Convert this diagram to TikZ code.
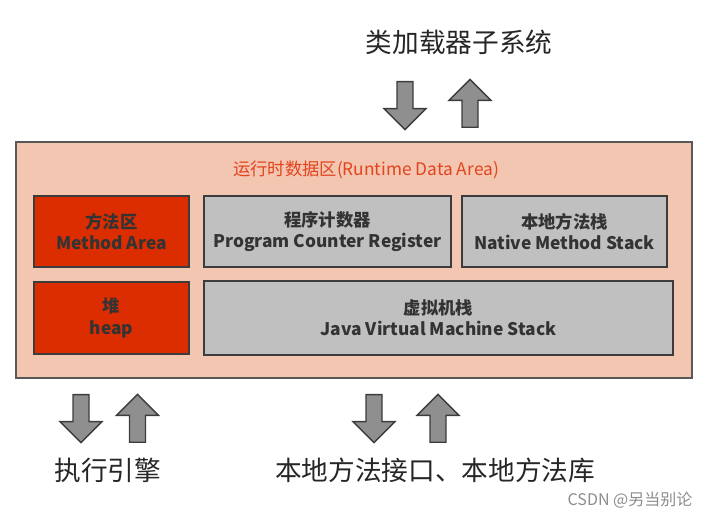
\documentclass[tikz,border=0pt]{standalone}
\usepackage{fontspec}
\setmainfont{Noto Sans CJK SC}
\usepackage{tikz}
\usetikzlibrary{shapes.arrows, positioning}

\definecolor{areafill}{HTML}{F3C6B2}
\definecolor{areared}{HTML}{E2441D}
\definecolor{heapred}{HTML}{DC2D00}
\definecolor{stackgray}{HTML}{C0C0C0}
\definecolor{arrowgray}{HTML}{8F8F8F}
\definecolor{edgegray}{HTML}{3C3C3C}

\begin{document}
\begin{tikzpicture}[
    x=0.75pt, y=-0.75pt,
    module/.style={
        rectangle,
        draw=edgegray,
        line width=1.4pt,
        minimum height=53.25pt,
        align=center,
        text=black!80,
        font=\fontsize{13}{16}\selectfont\bfseries,
        fill=#1
    },
    blockarrow/.style={
        single arrow,
        draw=edgegray,
        line width=1pt,
        fill=arrowgray,
        inner sep=5.5pt,
        minimum height=36pt,
        single arrow head extend=9.8pt
    },
    label/.style={font=\fontsize{20}{24}\selectfont, text=black!85}
]
    \useasboundingbox (0,0) rectangle (711,520);

    % runtime data area
    \node[draw=edgegray!85, line width=1.4pt, fill=areafill,
          minimum width=507pt, minimum height=177pt] (area) at (354,260) {};
    \node[text=areared, font=\fontsize{13}{16}\selectfont] (areatitle) at (366,170)
        {运行时数据区(Runtime Data Area)};

    \node[module=heapred, minimum width=116.25pt] (method) at (111.5,231.5) {方法区\\Method Area};
    \node[module=stackgray, minimum width=185.25pt] (pc) at (327.5,231.5) {程序计数器\\Program Counter Register};
    \node[module=stackgray, minimum width=153.75pt] (native) at (564.5,231.5) {本地方法栈\\Native Method Stack};
    \node[module=heapred, minimum width=116.25pt, minimum height=54pt] (heap) at (111.5,318) {堆\\heap};
    \node[module=stackgray, minimum width=351.75pt, minimum height=55.5pt] (jvmstack) at (438.5,318) {虚拟机栈\\Java Virtual Machine Stack};

    % outer subsystems
    \node[label] (loader) at (459,42) {类加载器子系统};
    \node[label] (engine) at (108,470) {执行引擎};
    \node[label] (nativelib) at (435,470) {本地方法接口、本地方法库};

    \node[blockarrow, rotate=-90, anchor=tail] (loaderin) at (405,81) {};
    \node[blockarrow, rotate=90, anchor=tail] (loaderout) at (470,128) {};
    \node[blockarrow, rotate=-90, anchor=tail] (enginein) at (81,394) {};
    \node[blockarrow, rotate=90, anchor=tail] (engineout) at (137.5,443) {};
    \node[blockarrow, rotate=-90, anchor=tail] (nativein) at (374,394) {};
    \node[blockarrow, rotate=90, anchor=tail] (nativeout) at (438,443) {};

    \node[font=\fontsize{12}{14}\selectfont, text=black!45] (mark) at (630,500) {CSDN @另当别论};
\end{tikzpicture}
\end{document}
